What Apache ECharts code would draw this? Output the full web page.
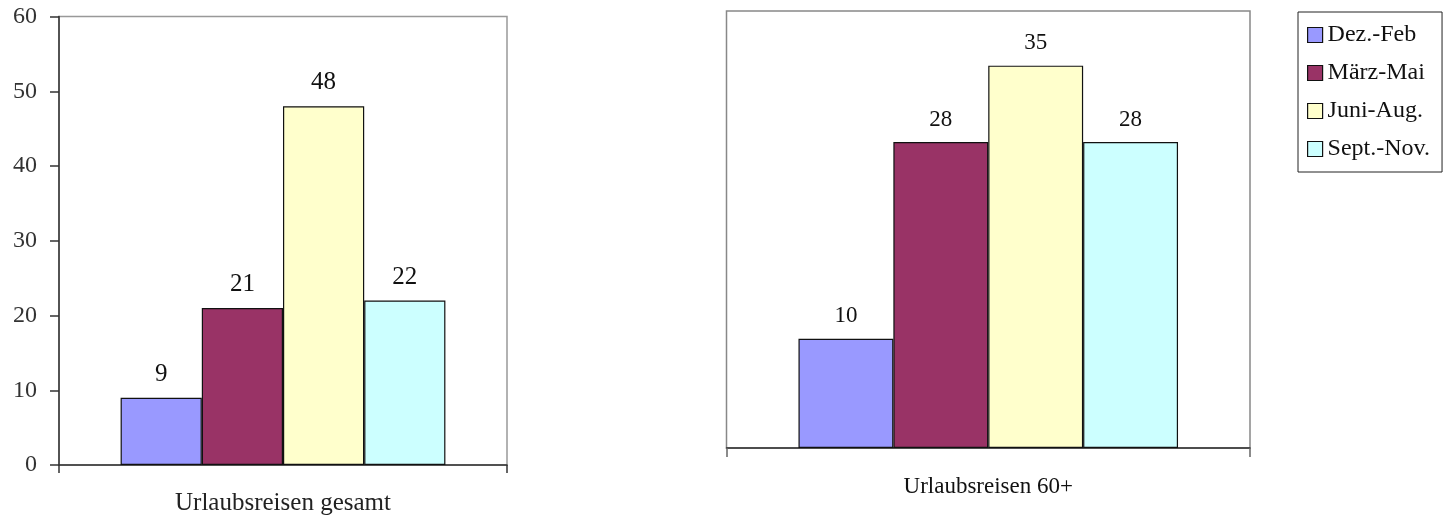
<!DOCTYPE html>
<html>
<head>
<meta charset="utf-8">
<script src="https://cdn.jsdelivr.net/npm/echarts@6/dist/echarts.min.js"></script>
<style>
html,body{margin:0;padding:0;background:#fff;}
#chart{width:1452px;height:519px;}
</style>
</head>
<body>
<div id="chart"></div>
<script>
const seasons = ['Dez.-Feb', 'März-Mai', 'Juni-Aug.', 'Sept.-Nov.'];
const colors = ['#9999FF', '#993366', '#FFFFCC', '#CCFFFF'];
const groupLeft = ['Urlaubsreisen gesamt'];
const groupRight = ['Urlaubsreisen 60+'];
const valuesGesamt = [9, 21, 48, 22];
const values60 = [10, 28, 35, 28];
const yTicksLeft = [0, 10, 20, 30, 40, 50, 60];

const FONT = '"Liberation Serif", "Times New Roman", serif';
const chart = echarts.init(document.getElementById('chart'), null, {renderer: 'canvas'});

function makeSeries(vals, gi, fontSize) {
  return seasons.map((name, i) => ({
    name: name,
    type: 'bar',
    xAxisIndex: gi,
    yAxisIndex: gi,
    barGap: '0%',
    barCategoryGap: '27.5%',
    itemStyle: {color: colors[i], borderColor: '#111', borderWidth: 1.2},
    label: {show: true, position: 'top', distance: 11, color: '#111',
            fontFamily: FONT, fontSize: fontSize},
    emphasis: {disabled: true},
    data: [vals[i]]
  }));
}

chart.setOption({
  animation: false,
  color: colors,
  grid: [
    {left: 59, top: 16.5, width: 448, height: 448.5, show: true,
     borderColor: '#999', borderWidth: 1.5, backgroundColor: 'transparent'},
    {left: 726.5, top: 11, width: 523.5, height: 437, show: true,
     borderColor: '#888', borderWidth: 1.5, backgroundColor: 'transparent'}
  ],
  legend: {
    orient: 'vertical',
    left: 1298, top: 12,
    padding: [11, 12, 11, 9],
    itemGap: 14,
    itemWidth: 15, itemHeight: 15,
    icon: 'rect',
    borderColor: '#222', borderWidth: 1,
    itemStyle: {borderColor: '#111', borderWidth: 1.2},
    textStyle: {fontFamily: FONT, fontSize: 24, color: '#111'},
    data: seasons
  },
  xAxis: [
    {type: 'category', gridIndex: 0, data: groupLeft,
     axisLine: {lineStyle: {color: '#333', width: 1.5}},
     axisTick: {show: true, length: 8, lineStyle: {color: '#333', width: 1.5}},
     axisLabel: {margin: 26, fontFamily: FONT, fontSize: 25, color: '#222'}},
    {type: 'category', gridIndex: 1, data: groupRight,
     axisLine: {lineStyle: {color: '#333', width: 1.5}},
     axisTick: {show: true, length: 9, lineStyle: {color: '#666', width: 1.5}},
     axisLabel: {margin: 27, fontFamily: FONT, fontSize: 23, color: '#111'}}
  ],
  yAxis: [
    {type: 'value', gridIndex: 0, min: yTicksLeft[0], max: yTicksLeft[yTicksLeft.length - 1], interval: 10,
     axisLine: {show: true, lineStyle: {color: '#333', width: 1.5}},
     axisTick: {show: true, length: 9, lineStyle: {color: '#333', width: 1.5}},
     splitLine: {show: false},
     axisLabel: {margin: 22, fontFamily: FONT, fontSize: 24, color: '#333'}},
    {type: 'value', gridIndex: 1, min: 0, max: 40,
     axisLine: {show: false}, axisTick: {show: false},
     splitLine: {show: false}, axisLabel: {show: false}}
  ],
  series: makeSeries(valuesGesamt, 0, 25).concat(makeSeries(values60, 1, 23))
});
</script>
</body>
</html>
